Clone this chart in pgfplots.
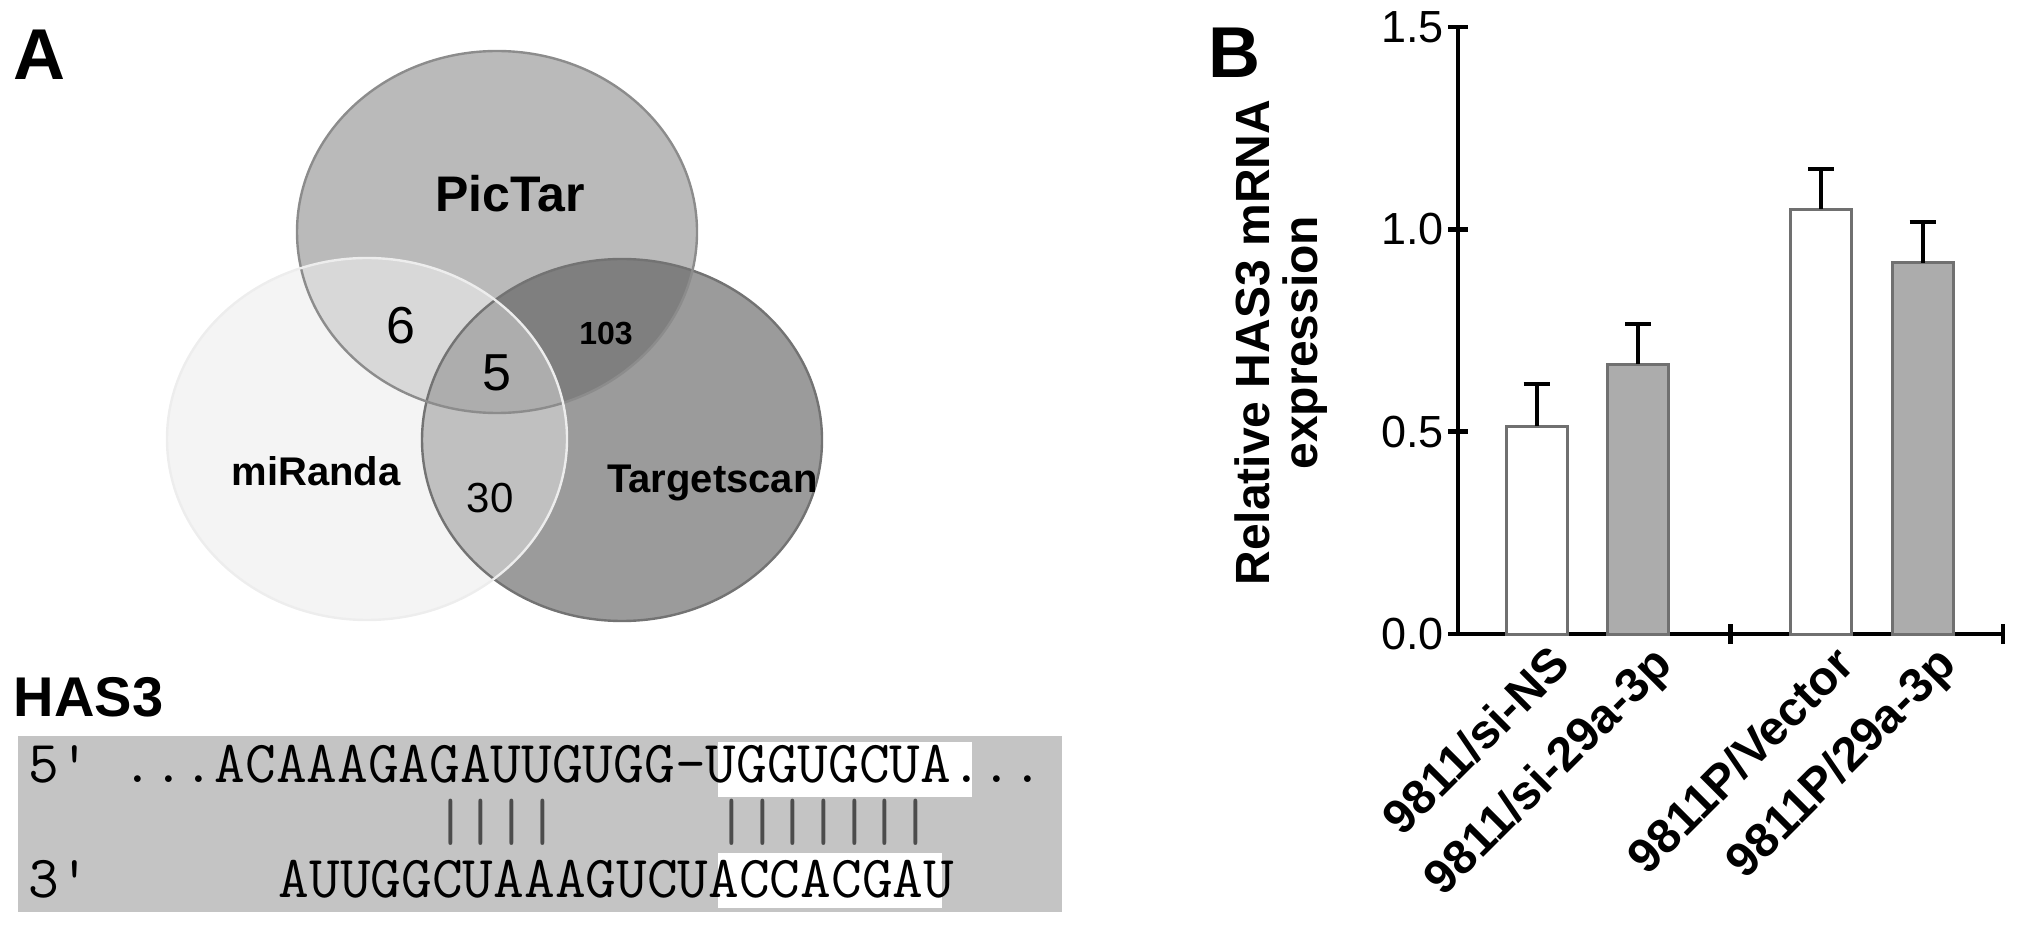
\documentclass[border=0pt]{standalone}
\usepackage{pgfplots}
\pgfplotsset{compat=1.18}
\usepackage{fontspec}
\setmainfont{Liberation Sans}

\definecolor{vP}{HTML}{BABABA}
\definecolor{vM}{HTML}{F4F4F4}
\definecolor{vT}{HTML}{9B9B9B}
\definecolor{vPM}{HTML}{D8D8D8}
\definecolor{vPT}{HTML}{7F7F7F}
\definecolor{vMT}{HTML}{C0C0C0}
\definecolor{vPMT}{HTML}{ADADAD}
\definecolor{seqbox}{HTML}{C4C4C4}
\definecolor{baredge}{HTML}{707070}
\definecolor{barfill}{HTML}{ACACAC}

\begin{document}
\begin{tikzpicture}[x=0.25bp,y=-0.25bp]
\useasboundingbox (0,0) rectangle (2031,927);

% ---- panel A: venn + alignment, in pixel-like axis units
\begin{axis}[at={(0bp,0bp)}, anchor=north west,
  width=275bp, height=231.75bp, scale only axis,
  xmin=0, xmax=1100, ymin=0, ymax=927, y dir=reverse,
  hide axis, clip=false]
  \fill[vP] (axis cs:497,232) ellipse [x radius=200, y radius=181];
  \fill[vM] (axis cs:367,439) ellipse [x radius=200, y radius=181];
  \fill[vT] (axis cs:622,440) ellipse [x radius=200, y radius=181];
  \begin{scope}
    \clip (axis cs:497,232) ellipse [x radius=200, y radius=181];
    \fill[vPM] (axis cs:367,439) ellipse [x radius=200, y radius=181];
    \fill[vPT] (axis cs:622,440) ellipse [x radius=200, y radius=181];
  \end{scope}
  \begin{scope}
    \clip (axis cs:367,439) ellipse [x radius=200, y radius=181];
    \fill[vMT] (axis cs:622,440) ellipse [x radius=200, y radius=181];
  \end{scope}
  \begin{scope}
    \clip (axis cs:497,232) ellipse [x radius=200, y radius=181];
    \clip (axis cs:367,439) ellipse [x radius=200, y radius=181];
    \fill[vPMT] (axis cs:622,440) ellipse [x radius=200, y radius=181];
  \end{scope}
  \draw[line width=0.6bp, black!55] (axis cs:622,440) ellipse [x radius=200, y radius=181];
  \draw[line width=0.6bp, black!45] (axis cs:497,232) ellipse [x radius=200, y radius=181];
  \draw[line width=0.6bp, black!7] (axis cs:367,439) ellipse [x radius=200, y radius=181];

  \node[font=\bfseries\fontsize{12.5bp}{12.5bp}\selectfont] at (axis cs:510,194) {PicTar};
  \node[font=\bfseries\fontsize{10bp}{10bp}\selectfont] at (axis cs:316,471) {miRanda};
  \node[font=\bfseries\fontsize{10bp}{10bp}\selectfont, anchor=west] at (axis cs:593,483) {Targetscan};
  \node[font=\fontsize{13bp}{13bp}\selectfont] at (axis cs:401,326) {6};
  \node[font=\fontsize{13bp}{13bp}\selectfont] at (axis cs:497,373) {5};
  \node[font=\bfseries\fontsize{8bp}{8bp}\selectfont] at (axis cs:606,334) {103};
  \node[font=\fontsize{10.5bp}{10.5bp}\selectfont] at (axis cs:490,498) {30};

  \node[font=\bfseries\fontsize{18bp}{18bp}\selectfont, anchor=base west, inner sep=0pt] at (axis cs:13,80) {A};
  \node[font=\bfseries\fontsize{14bp}{14bp}\selectfont, anchor=base west, inner sep=0pt] at (axis cs:13,716) {HAS3};

  % alignment box
  \fill[seqbox] (axis cs:18,736) rectangle (axis cs:1062,912);
  \fill[white] (axis cs:718,742) rectangle (axis cs:972,797);
  \fill[white] (axis cs:718,853) rectangle (axis cs:942,908);
  \begin{scope}[every node/.style={anchor=base west, inner sep=0pt,
      font=\ttfamily\addfontfeatures{FakeBold=1.2}\fontsize{14.9bp}{15bp}\selectfont}]
    \node at (axis cs:28,783) {5\textquotesingle};
    \node at (axis cs:121.75,783) {...ACAAAGAGAUUGUGG-UGGUGCUA...};
    \node[text=black!70] at (axis cs:434.25,840) {||||};
    \node[text=black!70] at (axis cs:715.5,840) {|||||||};
    \node at (axis cs:28,897) {3\textquotesingle};
    \node at (axis cs:278,897) {AUUGGCUAAAGUCUACCACGAU};
  \end{scope}
\end{axis}

\node[font=\bfseries\fontsize{18bp}{18bp}\selectfont, anchor=base west, inner sep=0pt] at (1208,78) {B};

% ---- panel B: bar chart
\begin{axis}[at={(364.5bp,-158.5bp)}, anchor=south west,
  width=136.25bp, height=151.75bp, scale only axis,
  xmin=0, xmax=2, ymin=0, ymax=1.5,
  axis lines=left,
  axis line style={-, line width=1.2bp},
  every tick/.style={black, line width=1.2bp},
  major tick length=5bp,
  ytick={0,0.5,1,1.5},
  yticklabel style={font=\fontsize{11.25bp}{11.25bp}\selectfont, xshift=2.5bp,
    /pgf/number format/.cd, fixed, fixed zerofill, precision=1, assume math mode=true},
  xtick={1,2}, xticklabels={},
  extra x ticks={0.288,0.661,1.332,1.705},
  extra x tick labels={9811/si-NS,9811/si-29a-3p,9811P/Vector,9811P/29a-3p},
  extra x tick style={major tick length=0pt,
    tick label style={rotate=45, anchor=north east, xshift=4bp,
      font=\bfseries\fontsize{12bp}{12bp}\selectfont}},
  ylabel={Relative HAS3 mRNA\\expression},
  ylabel style={align=center, font=\bfseries\fontsize{12bp}{12bp}\selectfont,
    at={(axis description cs:-0.325,0.48)}, anchor=center},
  clip=false]
  \addplot[ybar, bar width=15.25bp, bar shift=0pt, fill=white, draw=baredge, line width=0.75bp,
    error bars/.cd, y dir=plus, y explicit,
    error bar style={line width=1bp, black},
    error mark options={rotate=90, mark size=3.25bp, line width=1bp, black}]
    coordinates {(0.288,0.514) +- (0,0.104) (1.332,1.050) +- (0,0.099)};
  \addplot[ybar, bar width=15.25bp, bar shift=0pt, fill=barfill, draw=baredge, line width=0.75bp,
    error bars/.cd, y dir=plus, y explicit,
    error bar style={line width=1bp, black},
    error mark options={rotate=90, mark size=3.25bp, line width=1bp, black}]
    coordinates {(0.661,0.667) +- (0,0.099) (1.705,0.917) +- (0,0.101)};
\end{axis}
\end{tikzpicture}
\end{document}
